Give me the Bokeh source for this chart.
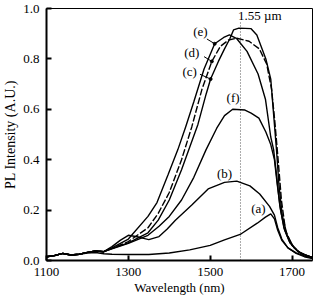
from bokeh.plotting import figure
from bokeh.models import FixedTicker, PrintfTickFormatter, Range1d
from bokeh.core.properties import value
from bokeh.embed import file_html
from bokeh.resources import INLINE

# ---- data ----
base_wl = [1100, 1120, 1140, 1160, 1180, 1200, 1220, 1240]
base_i = [0.015, 0.02, 0.028, 0.022, 0.025, 0.032, 0.038, 0.035]

a_wl = base_wl + [1260, 1300, 1350, 1400, 1450, 1500, 1535, 1575, 1615, 1635, 1648, 1657, 1665, 1675, 1690, 1710, 1730, 1750]
a_i = [0.015, 0.02, 0.028, 0.022, 0.025, 0.03, 0.032, 0.027] + [0.025, 0.024, 0.024, 0.03, 0.042, 0.06, 0.082, 0.105, 0.148, 0.172, 0.185, 0.165, 0.12, 0.08, 0.05, 0.028, 0.015, 0.008]

b_wl = base_wl + [1260, 1280, 1300, 1325, 1350, 1375, 1395, 1415, 1455, 1495, 1535, 1565, 1597, 1621, 1645, 1657, 1665, 1675, 1690, 1710, 1730, 1750]
b_i = base_i + [0.055, 0.08, 0.10, 0.093, 0.083, 0.095, 0.125, 0.16, 0.22, 0.284, 0.31, 0.315, 0.296, 0.264, 0.215, 0.18, 0.13, 0.085, 0.05, 0.03, 0.018, 0.01]

c_wl = base_wl + [1260, 1300, 1348, 1373, 1400, 1430, 1470, 1490, 1501, 1520, 1535, 1548, 1557, 1570, 1600, 1614, 1636, 1648, 1655, 1662, 1668, 1676, 1688, 1705, 1725, 1750]
c_i = base_i + [0.048, 0.07, 0.11, 0.16, 0.24, 0.36, 0.54, 0.66, 0.72, 0.79, 0.84, 0.88, 0.915, 0.922, 0.92, 0.895, 0.80, 0.72, 0.58, 0.44, 0.30, 0.18, 0.10, 0.05, 0.025, 0.012]

d_wl = base_wl + [1260, 1300, 1348, 1373, 1400, 1430, 1455, 1480, 1504, 1525, 1545, 1565, 1595, 1620, 1638, 1650, 1658, 1666, 1674, 1684, 1700, 1720, 1750]
d_i = base_i + [0.048, 0.075, 0.13, 0.187, 0.27, 0.40, 0.53, 0.68, 0.79, 0.85, 0.875, 0.882, 0.87, 0.84, 0.78, 0.68, 0.55, 0.40, 0.24, 0.12, 0.06, 0.03, 0.012]

e_wl = base_wl + [1260, 1300, 1348, 1370, 1397, 1421, 1440, 1460, 1485, 1511, 1533, 1547, 1565, 1590, 1617, 1635, 1648, 1655, 1662, 1670, 1680, 1695, 1715, 1735, 1750]
e_i = base_i + [0.05, 0.085, 0.175, 0.23, 0.34, 0.44, 0.53, 0.63, 0.76, 0.86, 0.885, 0.895, 0.88, 0.83, 0.74, 0.64, 0.49, 0.44, 0.34, 0.22, 0.13, 0.07, 0.035, 0.02, 0.012]

f_wl = base_wl + [1260, 1300, 1348, 1375, 1400, 1430, 1460, 1490, 1516, 1535, 1555, 1585, 1600, 1619, 1636, 1648, 1657, 1664, 1672, 1682, 1695, 1715, 1735, 1750]
f_i = base_i + [0.046, 0.068, 0.10, 0.136, 0.175, 0.24, 0.33, 0.44, 0.525, 0.575, 0.60, 0.597, 0.585, 0.565, 0.51, 0.46, 0.40, 0.30, 0.20, 0.12, 0.07, 0.035, 0.02, 0.01]

x_ticks = [1100, 1300, 1500, 1700]
y_ticks = [0.0, 0.2, 0.4, 0.6, 0.8, 1.0]
x_title = "Wavelength (nm)"
y_title = "PL Intensity (A.U.)"

labels = ["(a)", "(b)", "(c)", "(d)", "(e)", "(f)"]
label_wl = [1618, 1535, 1450, 1455, 1476, 1556]
label_i = [0.206, 0.346, 0.751, 0.825, 0.907, 0.646]

arrow_x0 = [1475, 1485, 1492]
arrow_y0 = [0.739, 0.809, 0.879]
arrow_x1 = [1501, 1504, 1511]
arrow_y1 = [0.720, 0.790, 0.860]

peak_wl = 1574
peak_text = "1.55 µm"

FONT = "Liberation Serif"

p = figure(width=314, height=297, output_backend="svg", toolbar_location=None,
           x_range=Range1d(1100, 1750), y_range=Range1d(0, 1.0),
           min_border_left=46, min_border_right=2, min_border_top=8, min_border_bottom=0)
p.xgrid.visible = False
p.ygrid.visible = False
p.outline_line_color = "black"
p.outline_line_width = 1
p.background_fill_color = "white"
p.border_fill_color = "white"

for ax in (p.xaxis[0], p.yaxis[0]):
    ax.axis_line_width = 2
    ax.axis_line_color = "black"
    ax.major_tick_in = 5
    ax.major_tick_out = 0
    ax.major_tick_line_width = 2
    ax.minor_tick_line_color = None
    ax.major_label_text_font = FONT
    ax.major_label_text_font_size = "13px"
    ax.major_label_text_color = "black"
    ax.axis_label_text_font = FONT
    ax.axis_label_text_font_style = "normal"
    ax.axis_label_text_color = "black"

p.xaxis.ticker = FixedTicker(ticks=x_ticks)
p.yaxis.ticker = FixedTicker(ticks=y_ticks)
p.yaxis.formatter = PrintfTickFormatter(format="%.1f")
p.xaxis.axis_label = x_title
p.yaxis.axis_label = y_title
p.xaxis.axis_label_text_font_size = "13px"
p.yaxis.axis_label_text_font_size = "14px"
p.xaxis.major_label_standoff = 7
p.yaxis.major_label_standoff = 7
p.xaxis.axis_label_standoff = 1
p.yaxis.axis_label_standoff = 2

# dotted reference line
p.segment(x0=[peak_wl], y0=[0], x1=[peak_wl], y1=[0.945], line_color="#555555",
          line_width=1, line_dash="1 2")

lw = 1.4
p.line(a_wl, a_i, line_color="black", line_width=lw)
p.line(b_wl, b_i, line_color="black", line_width=lw)
p.line(c_wl, c_i, line_color="black", line_width=lw)
p.line(d_wl, d_i, line_color="black", line_width=lw, line_dash="7 2")
p.line(e_wl, e_i, line_color="black", line_width=lw)
p.line(f_wl, f_i, line_color="black", line_width=lw)

p.segment(x0=arrow_x0, y0=arrow_y0, x1=arrow_x1, y1=arrow_y1, line_color="black", line_width=1)
p.scatter(arrow_x1, arrow_y1, size=3, color="black")

p.text(x=label_wl, y=label_i, text=labels, text_font=value(FONT),
       text_align="center", text_baseline="middle", text_font_size="13px", text_color="black")
p.text(x=[1621], y=[0.973], text=[peak_text], text_font=value(FONT),
       text_align="center", text_baseline="middle", text_font_size="13px", text_color="black")

open("out.html", "w").write(file_html(p, INLINE))
